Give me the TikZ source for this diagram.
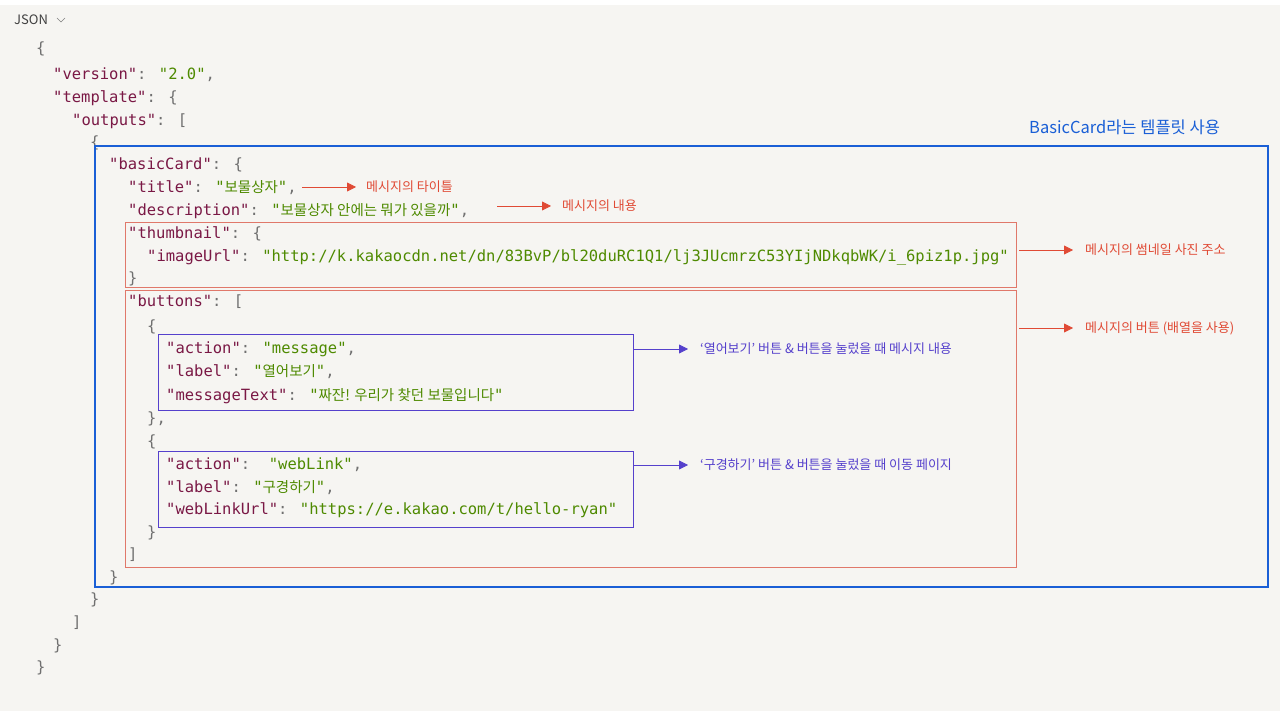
\documentclass[tikz,border=0pt]{standalone}
\usepackage{fontspec}
\setmainfont{Noto Sans CJK KR}
\newfontfamily\monof{DejaVu Sans Mono}
\newfontfamily\krf{Noto Sans CJK KR}
\usetikzlibrary{arrows.meta}
\definecolor{bgc}{HTML}{F6F5F2}
\definecolor{keyc}{HTML}{7A1845}
\definecolor{strc}{HTML}{4E8A00}
\definecolor{punc}{HTML}{707070}
\definecolor{bluec}{HTML}{1A5FD6}
\definecolor{redc}{HTML}{E0786A}
\definecolor{reda}{HTML}{E04A35}
\definecolor{purc}{HTML}{5540CC}
\newcommand\jk[1]{\textcolor{keyc}{"#1"}}
\newcommand\js[1]{\textcolor{strc}{"#1"}}
\newcommand\jp[1]{\textcolor{punc}{#1}}
\newcommand\kr[1]{{\krf\fontsize{14.5}{16}\selectfont #1}}
\tikzset{
 code/.style={anchor=base west,inner sep=0,font=\monof\fontsize{15.5}{18}\selectfont},
 note/.style={anchor=west,inner sep=0,font=\krf\fontsize{13}{15}\selectfont},
 rarr/.style={reda,-{Triangle[length=9pt,width=9pt]},line width=0.8pt},
 parr/.style={purc,-{Triangle[length=9pt,width=9pt]},line width=0.8pt},
}
\begin{document}
\begin{tikzpicture}[x=1pt,y=-1pt]
\useasboundingbox (0,0) rectangle (1280,711);
\fill[bgc] (0,5) rectangle (1280,711);
\node[anchor=west,inner sep=0,font=\krf\fontsize{13}{15}\selectfont,text=black!75] (hdr) at (14,20) {JSON};
\draw[black!50,line width=0.6pt] (57,18) -- (61,22) -- (65,18);
% code
\node[code] (l1) at (36,54) {\jp{\{}};
\node[code] (l2) at (53,80) {\jk{version}\jp{:} \js{2.0}\jp{,}};
\node[code] (l3) at (53,103) {\jk{template}\jp{: \{}};
\node[code] (l4) at (72,126) {\jk{outputs}\jp{: [}};
\node[code] (l5) at (90,148) {\jp{\{}};
\node[code] (l6) at (109,170) {\jk{basicCard}\jp{: \{}};
\node[code] (l7) at (128,193) {\jk{title}\jp{:} \textcolor{strc}{"\kr{보물상자}"}\jp{,}};
\node[code] (l8) at (128,216) {\jk{description}\jp{:} \textcolor{strc}{"\kr{보물상자 안에는 뭐가 있을까}"}\jp{,}};
\node[code] (l9) at (128,239) {\jk{thumbnail}\jp{: \{}};
\node[code] (l10) at (147,262) {\jk{imageUrl}\jp{:} \js{http://k.kakaocdn.net/dn/83BvP/bl20duRC1Q1/lj3JUcmrzC53YIjNDkqbWK/i\_6piz1p.jpg}};
\node[code] (l11) at (128,284) {\jp{\}}};
\node[code] (l12) at (128,307) {\jk{buttons}\jp{: [}};
\node[code] (l13) at (147,331) {\jp{\{}};
\node[code] (l14) at (166,354) {\jk{action}\jp{:} \js{message}\jp{,}};
\node[code] (l15) at (166,377) {\jk{label}\jp{:} \textcolor{strc}{"\kr{열어보기}"}\jp{,}};
\node[code] (l16) at (166,400) {\jk{messageText}\jp{:} \textcolor{strc}{"\kr{짜잔! 우리가 찾던 보물입니다}"}};
\node[code] (l17) at (147,423) {\jp{\},}};
\node[code] (l18) at (147,446) {\jp{\{}};
\node[code] (l19) at (166,469) {\jk{action}\jp{:}\ \ \js{webLink}\jp{,}};
\node[code] (l20) at (166,492) {\jk{label}\jp{:} \textcolor{strc}{"\kr{구경하기}"}\jp{,}};
\node[code] (l21) at (166,514) {\jk{webLinkUrl}\jp{:} \js{https://e.kakao.com/t/hello-ryan}};
\node[code] (l22) at (147,537) {\jp{\}}};
\node[code] (l23) at (128,559) {\jp{]}};
\node[code] (l24) at (109,582) {\jp{\}}};
\node[code] (l25) at (90,604) {\jp{\}}};
\node[code] (l26) at (72,627) {\jp{]}};
\node[code] (l27) at (53,650) {\jp{\}}};
\node[code] (l28) at (36,672) {\jp{\}}};
% boxes
\draw[bluec,line width=1.3pt] (95,146) rectangle (1268,587);
\node[anchor=west,inner sep=0,text=bluec,font=\krf\fontsize{16.5}{18}\selectfont] (bl) at (1029,127) {BasicCard라는 템플릿 사용};
\draw[redc,line width=0.9pt] (125,222) rectangle (1016,287);
\draw[redc,line width=0.9pt] (125,290) rectangle (1016,567);
\draw[purc,line width=0.9pt] (158,334) rectangle (633,410);
\draw[purc,line width=0.9pt] (158,451) rectangle (633,527);
% notes
\node[note,text=reda] (n1) at (366,187) {메시지의 타이틀};
\node[note,text=reda] (n2) at (562,206) {메시지의 내용};
\node[note,text=reda] (n3) at (1085,250) {메시지의 썸네일 사진 주소};
\node[note,text=reda] (n4) at (1085,328) {메시지의 버튼 (배열을 사용)};
\node[note,text=purc] (n5) at (700,349) {‘열어보기’ 버튼 \& 버튼을 눌렀을 때 메시지 내용};
\node[note,text=purc] (n6) at (700,465) {‘구경하기’ 버튼 \& 버튼을 눌렀을 때 이동 페이지};
\coordinate (a1) at (302,187); \coordinate (b1) at (356,187);
\coordinate (a2) at (497,206); \coordinate (b2) at (551,206);
\coordinate (a3) at (1019,250); \coordinate (b3) at (1073,250);
\coordinate (a4) at (1019,328); \coordinate (b4) at (1073,328);
\coordinate (a5) at (634,349); \coordinate (b5) at (688,349);
\coordinate (a6) at (634,465); \coordinate (b6) at (688,465);
\draw[rarr] (a1) -- (b1);
\draw[rarr] (a2) -- (b2);
\draw[rarr] (a3) -- (b3);
\draw[rarr] (a4) -- (b4);
\draw[parr] (a5) -- (b5);
\draw[parr] (a6) -- (b6);
\end{tikzpicture}
\end{document}
